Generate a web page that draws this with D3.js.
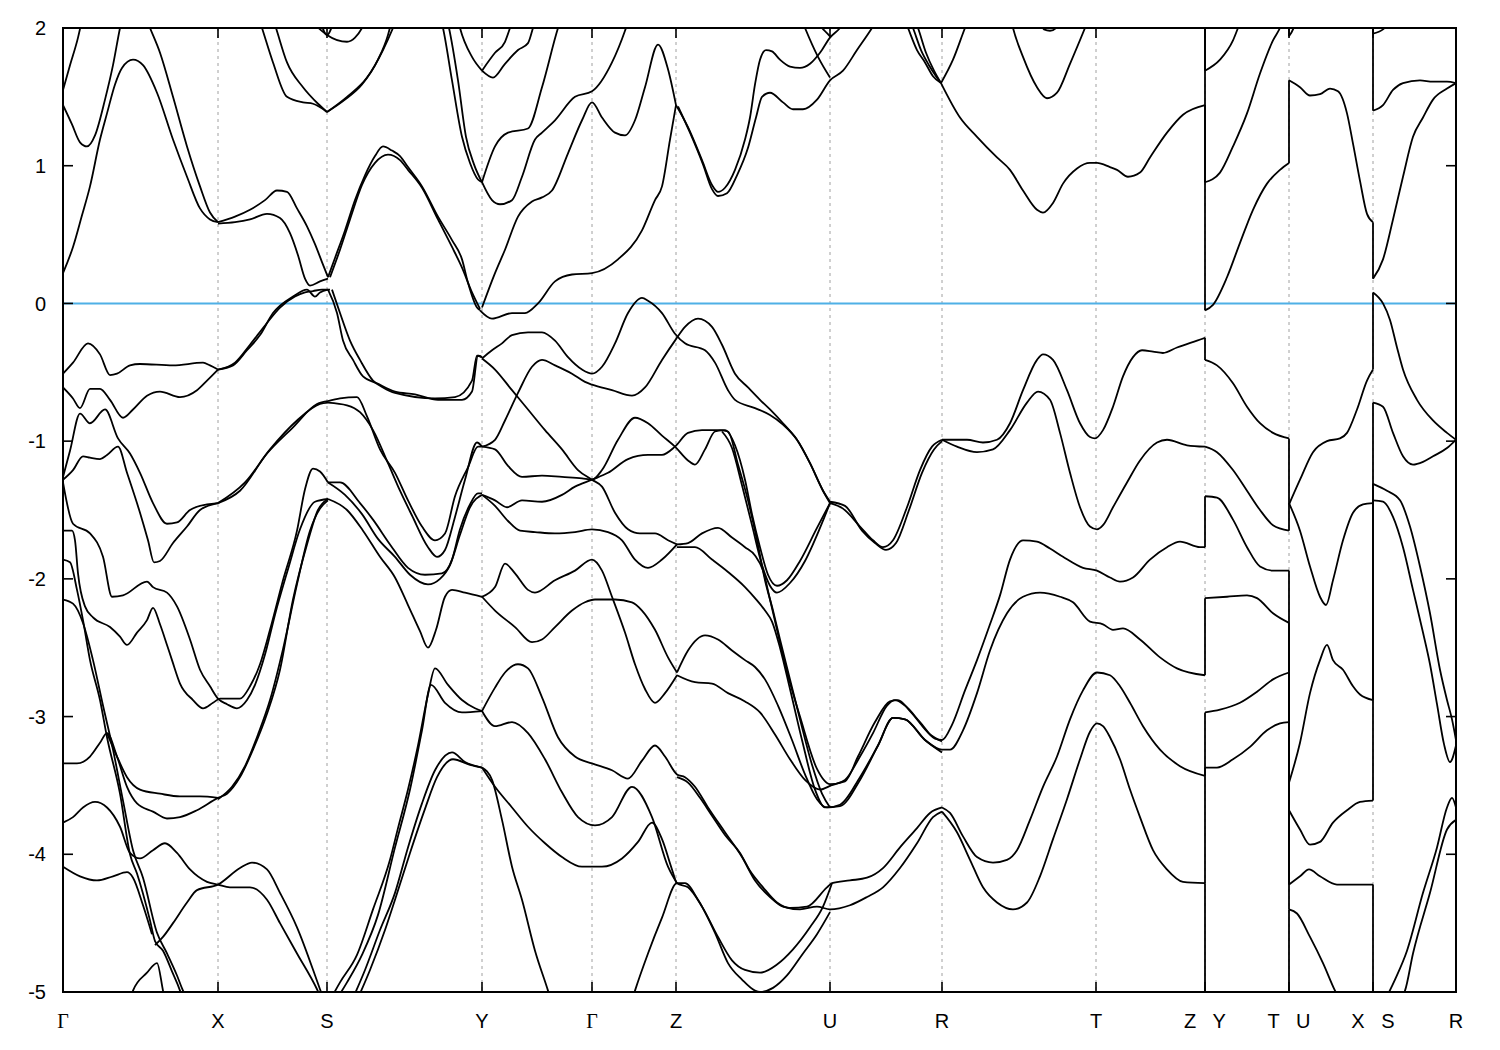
<!DOCTYPE html>
<html><head><meta charset="utf-8">
<script src="https://cdn.jsdelivr.net/npm/d3@7"></script>
<style>
body{margin:0;background:#fff}
text{font-family:"Liberation Sans",Arial,sans-serif;fill:#000}
</style>
</head><body>
<svg id="chart" width="1500" height="1050"></svg>
<script>
// high-symmetry points along the k-path
const kTicks  = [0, 1.55, 2.64, 4.19, 5.29, 6.13, 7.67, 8.79, 10.33, 11.42, 12.26, 13.10, 13.93];
const kLabels = ["Γ","X","S","Y","Γ","Z","U","R","T","Z   Y","T   U","X   S","R"];
const eTicks  = [2, 1, 0, -1, -2, -3, -4, -5];
const eFermi  = 0;

// bands above the Fermi level: [k, E(eV)]
const bandsUpper = [
 [[0,1.55],[0.07,1.73],[0.15,1.93],[0.19,2.06]],
 [[0,1.44],[0.09,1.30],[0.17,1.17],[0.24,1.14],[0.32,1.22],[0.42,1.48],[0.50,1.73],[0.57,2.00],[0.61,2.13]],
 [[0,0.22],[0.10,0.41],[0.19,0.64],[0.27,0.85],[0.37,1.19],[0.44,1.38],[0.52,1.59],[0.59,1.71],[0.70,1.77],[0.80,1.73],[0.94,1.53],[1.10,1.19],[1.24,0.92],[1.37,0.69],[1.47,0.61],[1.55,0.59]],
 [[0.82,2.09],[0.87,2.00],[0.97,1.82],[1.10,1.50],[1.24,1.14],[1.37,0.85],[1.47,0.66],[1.55,0.59]],
 [[1.55,0.59],[1.72,0.63],[1.87,0.68],[2.02,0.75],[2.14,0.82],[2.24,0.81],[2.34,0.69],[2.44,0.56],[2.52,0.43],[2.59,0.30],[2.65,0.19]],
 [[1.55,0.58],[1.72,0.59],[1.87,0.61],[2.04,0.65],[2.17,0.62],[2.27,0.51],[2.35,0.35],[2.42,0.18],[2.47,0.13],[2.57,0.16],[2.65,0.18]],
 [[2.65,0.19],[2.72,0.33],[2.82,0.53],[2.92,0.75],[3.02,0.93],[3.12,1.07],[3.20,1.14],[3.29,1.11],[3.37,1.07],[3.45,0.99],[3.59,0.85],[3.75,0.63],[3.89,0.46],[3.99,0.32],[4.05,0.15],[4.14,-0.03],[4.17,-0.05]],
 [[2.67,0.19],[2.77,0.39],[2.87,0.61],[2.99,0.86],[3.12,1.02],[3.25,1.08],[3.37,1.04],[3.45,0.97],[3.59,0.84],[3.75,0.61],[3.89,0.41],[3.99,0.26],[4.09,0.08],[4.17,-0.04]],
 [[1.95,2.09],[1.99,2.00],[2.10,1.75],[2.24,1.50],[2.40,1.46],[2.50,1.45],[2.64,1.39]],
 [[2.09,2.09],[2.13,2.00],[2.24,1.75],[2.40,1.57],[2.55,1.45],[2.64,1.39]],
 [[2.64,1.39],[2.84,1.50],[3.04,1.64],[3.20,1.84],[3.30,2.00],[3.35,2.09]],
 [[2.64,1.39],[2.82,1.48],[2.99,1.59],[3.15,1.77],[3.25,1.95],[3.29,2.06]],
 [[2.47,2.06],[2.57,1.99],[2.64,1.95],[2.84,1.90],[2.92,1.93],[2.99,2.00],[3.03,2.06]],
 [[2.57,2.06],[2.64,1.95],[2.71,2.06]],
 [[3.77,2.09],[3.80,2.00],[3.89,1.62],[3.99,1.21],[4.07,1.02],[4.15,0.90],[4.19,0.88]],
 [[3.83,2.09],[3.86,2.00],[3.95,1.62],[4.03,1.21],[4.11,1.01],[4.19,0.88]],
 [[3.94,2.09],[3.97,2.00],[4.09,1.79],[4.19,1.69]],
 [[4.19,1.69],[4.32,1.82],[4.42,1.90],[4.47,2.00],[4.51,2.09]],
 [[4.19,1.69],[4.30,1.64],[4.42,1.74],[4.55,1.84],[4.65,1.89],[4.70,2.00],[4.74,2.09]],
 [[4.19,0.88],[4.32,1.14],[4.45,1.24],[4.65,1.27],[4.79,1.57],[4.95,2.00],[4.99,2.09]],
 [[4.19,0.88],[4.29,0.75],[4.37,0.72],[4.49,0.75],[4.59,0.92],[4.72,1.19],[4.79,1.24],[4.92,1.33],[5.12,1.50],[5.29,1.54],[5.49,1.75],[5.62,1.98],[5.67,2.09]],
 [[4.19,-0.03],[4.32,0.22],[4.42,0.39],[4.55,0.63],[4.69,0.74],[4.79,0.77],[4.89,0.82],[5.05,1.09],[5.19,1.33],[5.29,1.46],[5.39,1.35],[5.52,1.24],[5.62,1.22],[5.72,1.33],[5.82,1.57],[5.95,1.88],[6.05,1.70],[6.13,1.44]],
 [[4.17,-0.05],[4.29,-0.11],[4.49,-0.07],[4.62,-0.07],[4.75,0.00],[4.92,0.16],[5.09,0.21],[5.29,0.22],[5.55,0.32],[5.79,0.53],[5.92,0.75],[5.99,0.85],[6.07,1.19],[6.13,1.44]],
 [[6.13,1.44],[6.25,1.28],[6.39,1.04],[6.49,0.86],[6.55,0.81],[6.62,0.84],[6.72,0.97],[6.82,1.19],[6.87,1.35],[6.92,1.59],[6.97,1.77],[7.03,1.84],[7.09,1.83],[7.17,1.77],[7.27,1.72],[7.37,1.71],[7.47,1.74],[7.57,1.82],[7.67,1.93],[7.77,2.00],[7.83,2.06]],
 [[6.15,1.43],[6.27,1.24],[6.40,1.01],[6.49,0.83],[6.55,0.78],[6.64,0.80],[6.74,0.93],[6.85,1.13],[6.93,1.35],[6.99,1.50],[7.07,1.53],[7.20,1.46],[7.30,1.41],[7.40,1.41],[7.54,1.48],[7.67,1.62],[7.80,1.69],[7.94,1.84],[8.09,2.00],[8.15,2.07]],
 [[7.37,2.09],[7.42,2.00],[7.55,1.79],[7.67,1.64]],
 [[7.52,2.06],[7.59,2.00],[7.67,1.94]],
 [[8.40,2.09],[8.45,2.00],[8.54,1.84],[8.62,1.75],[8.70,1.65],[8.78,1.60]],
 [[8.45,2.09],[8.50,2.00],[8.58,1.84],[8.66,1.73],[8.73,1.65],[8.78,1.60]],
 [[8.50,2.09],[8.55,2.00],[8.63,1.82],[8.71,1.69],[8.78,1.60]],
 [[8.78,1.60],[8.90,1.77],[9.02,2.00],[9.07,2.09]],
 [[8.78,1.60],[8.97,1.35],[9.14,1.21],[9.34,1.06],[9.47,0.97],[9.60,0.82],[9.74,0.68],[9.80,0.66],[9.90,0.73],[10.00,0.87],[10.14,0.98],[10.27,1.02],[10.34,1.02],[10.47,0.99],[10.54,0.97],[10.65,0.92],[10.77,0.95],[10.87,1.06],[11.04,1.24],[11.20,1.37],[11.42,1.44]],
 [[9.47,2.09],[9.50,2.00],[9.60,1.79],[9.74,1.57],[9.84,1.49],[9.94,1.53],[10.07,1.74],[10.22,2.00],[10.27,2.09]],
 [[9.77,2.06],[9.81,1.99],[9.87,1.98],[9.93,2.00],[9.97,2.06]],
 [[11.42,1.69],[11.57,1.77],[11.70,1.91],[11.75,2.00],[11.80,2.09]],
 [[11.42,0.88],[11.57,0.95],[11.70,1.14],[11.84,1.38],[11.97,1.67],[12.10,1.91],[12.17,2.00],[12.22,2.09]],
 [[11.42,-0.05],[11.50,-0.01],[11.64,0.19],[11.77,0.44],[11.90,0.68],[12.04,0.87],[12.17,0.97],[12.26,1.02]],
 [[12.26,1.62],[12.37,1.57],[12.47,1.51],[12.57,1.52],[12.67,1.56],[12.75,1.54],[12.84,1.38],[12.90,1.16],[12.97,0.89],[13.04,0.65],[13.10,0.59]],
 [[12.26,1.94],[12.30,1.99],[12.33,2.06]],
 [[13.10,1.96],[13.20,1.99],[13.27,2.06]],
 [[13.10,1.40],[13.20,1.44],[13.30,1.55],[13.40,1.60],[13.57,1.62],[13.70,1.61],[13.84,1.61],[13.93,1.60]],
 [[13.10,0.18],[13.20,0.32],[13.30,0.61],[13.40,0.92],[13.50,1.21],[13.60,1.35],[13.70,1.48],[13.84,1.56],[13.93,1.60]],
 [[13.10,0.08],[13.20,0.00],[13.27,-0.12],[13.34,-0.32],[13.40,-0.48],[13.54,-0.70],[13.70,-0.85],[13.84,-0.94],[13.93,-0.99]]
];

// valence bands between about -0.3 and -3.7 eV
const bandsMiddle = [
 [[0,-0.51],[0.10,-0.43],[0.25,-0.29],[0.37,-0.37],[0.47,-0.52],[0.54,-0.51],[0.67,-0.45],[0.77,-0.44],[1.10,-0.45],[1.40,-0.43],[1.47,-0.45],[1.55,-0.48]],
 [[0,-0.61],[0.10,-0.69],[0.17,-0.76],[0.27,-0.62],[0.37,-0.62],[0.47,-0.70],[0.60,-0.83],[0.70,-0.77],[0.84,-0.67],[0.97,-0.64],[1.17,-0.68],[1.34,-0.63],[1.44,-0.56],[1.55,-0.48]],
 [[1.55,-0.48],[1.70,-0.45],[1.84,-0.34],[1.97,-0.23],[2.10,-0.07],[2.30,0.05],[2.44,0.10],[2.52,0.05],[2.57,0.08],[2.65,0.10]],
 [[1.55,-0.48],[1.72,-0.43],[1.87,-0.30],[2.02,-0.16],[2.17,-0.03],[2.32,0.05],[2.42,0.08],[2.50,0.09],[2.59,0.10],[2.67,0.10]],
 [[2.65,0.10],[2.74,-0.07],[2.80,-0.27],[2.90,-0.41],[3.00,-0.53],[3.14,-0.58],[3.32,-0.64],[3.52,-0.66],[3.75,-0.70],[3.99,-0.70],[4.09,-0.64],[4.15,-0.38],[4.19,-0.39]],
 [[2.69,0.10],[2.77,-0.07],[2.87,-0.27],[2.97,-0.41],[3.10,-0.56],[3.20,-0.61],[3.32,-0.65],[3.72,-0.69],[3.92,-0.68],[4.09,-0.56],[4.14,-0.38],[4.19,-0.39]],
 [[4.19,-0.40],[4.29,-0.34],[4.39,-0.29],[4.49,-0.23],[4.65,-0.21],[4.79,-0.21],[4.92,-0.27],[5.05,-0.39],[5.19,-0.48],[5.29,-0.51],[5.39,-0.46],[5.52,-0.29],[5.65,-0.07],[5.79,0.04],[5.85,0.02],[5.99,-0.07],[6.12,-0.22],[6.22,-0.29],[6.42,-0.34],[6.52,-0.43],[6.65,-0.63],[6.72,-0.70],[6.92,-0.76],[7.07,-0.81],[7.20,-0.88],[7.34,-0.99],[7.47,-1.16],[7.60,-1.36],[7.67,-1.44]],
 [[4.19,-1.04],[4.32,-0.99],[4.42,-0.85],[4.55,-0.65],[4.69,-0.46],[4.79,-0.41],[4.92,-0.45],[5.09,-0.51],[5.22,-0.57],[5.29,-0.59],[5.49,-0.63],[5.69,-0.67],[5.82,-0.61],[5.99,-0.41],[6.12,-0.27],[6.22,-0.17],[6.35,-0.11],[6.49,-0.17],[6.59,-0.30],[6.72,-0.51],[6.85,-0.61],[6.97,-0.70],[7.07,-0.77],[7.20,-0.87],[7.34,-0.99],[7.47,-1.16],[7.60,-1.36],[7.67,-1.45]],
 [[4.19,-0.40],[4.32,-0.48],[4.49,-0.63],[4.65,-0.77],[4.82,-0.92],[4.99,-1.06],[5.15,-1.21],[5.29,-1.28],[5.39,-1.33],[5.52,-1.52],[5.65,-1.64],[5.77,-1.67],[5.92,-1.67],[6.05,-1.72],[6.14,-1.75]],
 [[4.19,-1.04],[4.32,-1.06],[4.45,-1.18],[4.59,-1.26],[4.79,-1.25],[4.99,-1.26],[5.19,-1.27],[5.29,-1.28],[5.39,-1.21],[5.55,-0.99],[5.72,-0.83],[5.85,-0.87],[5.99,-0.96],[6.12,-1.04],[6.25,-1.14],[6.32,-1.17],[6.42,-1.06],[6.52,-0.93],[6.62,-0.92],[6.72,-1.03],[6.82,-1.28],[6.89,-1.53],[6.97,-1.77],[7.05,-1.97],[7.14,-2.05],[7.24,-2.01],[7.37,-1.87],[7.54,-1.63],[7.67,-1.45]],
 [[4.19,-1.39],[4.32,-1.43],[4.44,-1.48],[4.59,-1.43],[4.79,-1.44],[4.99,-1.39],[5.12,-1.33],[5.29,-1.28],[5.45,-1.23],[5.65,-1.13],[5.85,-1.10],[5.99,-1.10],[6.12,-1.04],[6.25,-0.94],[6.39,-0.92],[6.55,-0.92],[6.65,-0.93],[6.75,-1.17],[6.85,-1.43],[6.94,-1.72],[7.02,-2.01],[7.10,-2.23],[7.17,-2.44],[7.27,-2.73],[7.37,-3.02],[7.49,-3.35],[7.59,-3.56],[7.67,-3.66]],
 [[6.59,-0.93],[6.69,-1.05],[6.79,-1.32],[6.89,-1.61],[6.99,-1.90],[7.07,-2.05],[7.14,-2.10],[7.27,-2.03],[7.42,-1.87],[7.57,-1.63],[7.67,-1.45]],
 [[4.19,-1.39],[4.32,-1.47],[4.45,-1.58],[4.57,-1.65],[4.72,-1.66],[4.92,-1.67],[5.12,-1.66],[5.29,-1.64],[5.45,-1.66],[5.59,-1.72],[5.72,-1.86],[5.85,-1.92],[5.99,-1.86],[6.14,-1.75]],
 [[6.14,-1.75],[6.25,-1.74],[6.39,-1.67],[6.55,-1.63],[6.69,-1.70],[6.82,-1.77],[6.92,-1.83],[7.00,-1.94],[7.07,-2.15],[7.14,-2.37],[7.22,-2.62],[7.37,-3.00],[7.54,-3.38],[7.67,-3.49],[7.82,-3.47],[7.95,-3.29],[8.12,-3.04],[8.27,-2.89],[8.35,-2.88],[8.47,-2.96],[8.67,-3.13],[8.79,-3.18]],
 [[6.14,-1.77],[6.32,-1.77],[6.49,-1.86],[6.65,-1.95],[6.82,-2.06],[6.92,-2.14],[7.02,-2.23],[7.09,-2.31],[7.17,-2.50],[7.27,-2.80],[7.39,-3.17],[7.52,-3.53],[7.62,-3.66],[7.77,-3.65],[7.97,-3.46],[8.15,-3.21],[8.30,-3.01],[8.42,-3.02],[8.62,-3.17],[8.79,-3.26]],
 [[7.67,-1.45],[7.80,-1.49],[7.97,-1.62],[8.10,-1.72],[8.20,-1.77],[8.30,-1.72],[8.44,-1.48],[8.57,-1.21],[8.69,-1.04],[8.79,-0.99]],
 [[7.67,-1.44],[7.82,-1.47],[7.99,-1.65],[8.12,-1.74],[8.23,-1.79],[8.33,-1.74],[8.46,-1.50],[8.59,-1.23],[8.71,-1.06],[8.79,-1.00]],
 [[8.79,-0.99],[9.04,-0.99],[9.20,-1.01],[9.34,-0.99],[9.47,-0.87],[9.60,-0.63],[9.74,-0.41],[9.80,-0.37],[9.90,-0.41],[10.04,-0.63],[10.17,-0.87],[10.27,-0.97],[10.32,-0.98],[10.40,-0.92],[10.50,-0.75],[10.60,-0.53],[10.70,-0.39],[10.79,-0.34],[10.90,-0.35],[11.00,-0.36],[11.14,-0.32],[11.34,-0.27],[11.42,-0.25]],
 [[8.79,-0.99],[8.94,-1.04],[9.14,-1.08],[9.30,-1.06],[9.47,-0.92],[9.64,-0.72],[9.75,-0.64],[9.87,-0.70],[9.97,-0.94],[10.07,-1.23],[10.17,-1.48],[10.27,-1.62],[10.34,-1.64],[10.40,-1.61],[10.50,-1.48],[10.64,-1.30],[10.77,-1.14],[10.94,-1.01],[11.04,-0.99],[11.24,-1.03],[11.42,-1.04]],
 [[6.14,-2.70],[6.32,-2.75],[6.49,-2.76],[6.65,-2.83],[6.82,-2.89],[6.97,-2.97],[7.12,-3.13],[7.27,-3.31],[7.42,-3.46],[7.57,-3.53],[7.68,-3.50],[7.82,-3.46],[7.97,-3.29],[8.10,-3.12],[8.24,-2.92],[8.32,-2.88],[8.42,-2.92],[8.57,-3.04],[8.72,-3.16],[8.79,-3.17],[8.89,-3.06],[9.02,-2.81],[9.14,-2.59],[9.27,-2.33],[9.37,-2.12],[9.47,-1.86],[9.60,-1.72],[9.74,-1.73],[9.87,-1.78],[10.00,-1.84],[10.20,-1.92],[10.34,-1.94],[10.47,-1.99],[10.57,-2.02],[10.70,-1.99],[10.87,-1.86],[11.04,-1.77],[11.17,-1.73],[11.37,-1.77],[11.42,-1.77]],
 [[6.14,-2.68],[6.25,-2.52],[6.42,-2.41],[6.55,-2.44],[6.69,-2.52],[6.82,-2.59],[6.92,-2.64],[7.02,-2.73],[7.15,-2.92],[7.29,-3.17],[7.42,-3.42],[7.54,-3.60],[7.64,-3.66],[7.77,-3.64],[7.97,-3.44],[8.15,-3.21],[8.30,-3.01],[8.42,-3.02],[8.62,-3.17],[8.79,-3.24],[8.87,-3.24],[9.00,-3.10],[9.14,-2.83],[9.27,-2.52],[9.44,-2.25],[9.60,-2.13],[9.77,-2.10],[9.97,-2.13],[10.10,-2.17],[10.27,-2.31],[10.40,-2.33],[10.50,-2.37],[10.60,-2.36],[10.77,-2.44],[10.97,-2.57],[11.14,-2.65],[11.42,-2.70]],
 [[11.42,-0.41],[11.54,-0.45],[11.70,-0.58],[11.84,-0.75],[11.97,-0.87],[12.10,-0.94],[12.26,-0.98]],
 [[11.42,-1.04],[11.54,-1.08],[11.70,-1.21],[11.84,-1.36],[11.97,-1.50],[12.10,-1.61],[12.26,-1.65]],
 [[11.42,-1.40],[11.54,-1.41],[11.70,-1.57],[11.84,-1.77],[11.97,-1.91],[12.10,-1.94],[12.26,-1.94]],
 [[11.42,-2.14],[11.64,-2.13],[11.84,-2.12],[11.94,-2.14],[12.10,-2.25],[12.26,-2.32]],
 [[11.42,-2.97],[11.57,-2.95],[11.77,-2.90],[11.94,-2.82],[12.10,-2.73],[12.26,-2.68]],
 [[11.42,-3.37],[11.54,-3.37],[11.70,-3.31],[11.87,-3.22],[12.04,-3.10],[12.17,-3.05],[12.26,-3.04]],
 [[12.26,-1.45],[12.37,-1.65],[12.47,-1.91],[12.57,-2.13],[12.63,-2.19],[12.70,-2.01],[12.80,-1.72],[12.90,-1.52],[13.00,-1.46],[13.10,-1.45]],
 [[12.26,-1.46],[12.37,-1.28],[12.50,-1.08],[12.64,-1.00],[12.77,-0.98],[12.84,-0.94],[12.94,-0.77],[13.04,-0.56],[13.10,-0.48]],
 [[12.26,-3.48],[12.37,-3.19],[12.47,-2.83],[12.57,-2.59],[12.64,-2.48],[12.70,-2.59],[12.80,-2.66],[12.90,-2.78],[12.97,-2.84],[13.10,-2.88]],
 [[12.26,-3.68],[12.37,-3.82],[12.47,-3.93],[12.57,-3.91],[12.70,-3.77],[12.84,-3.68],[12.97,-3.62],[13.10,-3.61]],
 [[12.26,-4.22],[12.37,-4.16],[12.46,-4.11],[12.57,-4.16],[12.74,-4.22],[12.90,-4.22],[13.10,-4.22]],
 [[12.26,-4.40],[12.34,-4.43],[12.47,-4.60],[12.60,-4.79],[12.72,-4.99],[12.77,-5.06]],
 [[13.10,-0.72],[13.20,-0.75],[13.30,-0.94],[13.40,-1.11],[13.50,-1.17],[13.60,-1.15],[13.70,-1.11],[13.84,-1.05],[13.93,-0.99]],
 [[13.10,-1.31],[13.24,-1.36],[13.37,-1.43],[13.47,-1.62],[13.57,-1.91],[13.67,-2.25],[13.77,-2.66],[13.84,-2.88],[13.89,-3.02],[13.93,-3.17]],
 [[13.10,-1.43],[13.20,-1.44],[13.30,-1.55],[13.40,-1.77],[13.50,-2.08],[13.60,-2.39],[13.67,-2.62],[13.74,-2.91],[13.81,-3.20],[13.87,-3.33],[13.93,-3.21]],
 [[13.22,-5.06],[13.32,-4.91],[13.44,-4.70],[13.60,-4.28],[13.74,-3.95],[13.84,-3.66],[13.89,-3.59],[13.93,-3.66]],
 [[13.35,-5.06],[13.42,-4.99],[13.50,-4.72],[13.67,-4.28],[13.84,-3.82],[13.93,-3.75]]
];

// deeper valence bands
const bandsLower = [
 [[0,-1.28],[0.10,-1.21],[0.20,-1.11],[0.27,-1.12],[0.37,-1.13],[0.44,-1.10],[0.55,-1.04],[0.64,-1.23],[0.77,-1.52],[0.85,-1.72],[0.91,-1.88],[0.97,-1.87],[1.10,-1.74],[1.24,-1.62],[1.37,-1.50],[1.55,-1.45]],
 [[0,-1.26],[0.07,-1.07],[0.17,-0.80],[0.27,-0.87],[0.42,-0.77],[0.55,-0.98],[0.67,-1.09],[0.77,-1.23],[0.90,-1.45],[1.04,-1.60],[1.14,-1.59],[1.27,-1.50],[1.44,-1.46],[1.55,-1.45]],
 [[0,-1.30],[0.10,-1.60],[0.27,-1.67],[0.40,-1.84],[0.49,-2.13],[0.60,-2.12],[0.84,-2.02],[0.90,-2.06],[1.04,-2.10],[1.14,-2.20],[1.27,-2.44],[1.37,-2.66],[1.47,-2.78],[1.55,-2.87],[1.64,-2.91],[1.74,-2.94],[1.84,-2.88],[1.92,-2.77],[2.02,-2.55],[2.12,-2.26],[2.25,-1.93],[2.37,-1.64],[2.52,-1.44],[2.65,-1.42]],
 [[0,-1.65],[0.09,-1.65],[0.12,-1.72],[0.15,-1.96],[0.22,-2.20],[0.30,-2.28],[0.47,-2.35],[0.57,-2.42],[0.64,-2.48],[0.74,-2.39],[0.84,-2.30],[0.90,-2.21],[0.97,-2.33],[1.04,-2.48],[1.09,-2.59],[1.17,-2.76],[1.30,-2.88],[1.40,-2.94],[1.50,-2.90],[1.57,-2.87],[1.77,-2.87],[1.87,-2.78],[1.97,-2.62],[2.07,-2.37],[2.20,-2.01],[2.34,-1.65],[2.42,-1.35],[2.50,-1.20],[2.57,-1.22],[2.65,-1.30]],
 [[0,-1.86],[0.07,-1.88],[0.14,-2.08],[0.20,-2.30],[0.27,-2.59],[0.37,-2.88],[0.44,-3.15],[0.57,-3.56],[0.67,-4.00],[0.74,-4.14],[0.87,-4.48],[0.92,-4.63],[1.00,-4.70],[1.09,-4.85],[1.17,-4.99],[1.20,-5.06]],
 [[0,-2.15],[0.10,-2.18],[0.20,-2.32],[0.30,-2.59],[0.40,-2.92],[0.50,-3.24],[0.60,-3.61],[0.70,-3.97],[0.80,-4.17],[0.94,-4.57],[1.04,-4.72],[1.14,-4.88],[1.20,-4.99],[1.25,-5.06]],
 [[0,-3.34],[0.14,-3.34],[0.27,-3.29],[0.37,-3.19],[0.44,-3.12],[0.54,-3.29],[0.64,-3.51],[0.74,-3.63],[0.90,-3.69],[1.04,-3.74],[1.17,-3.73],[1.34,-3.68],[1.55,-3.59],[1.64,-3.56],[1.77,-3.44],[1.90,-3.24],[2.04,-2.98],[2.17,-2.66],[2.30,-2.15],[2.44,-1.75],[2.55,-1.50],[2.65,-1.42]],
 [[0.44,-3.12],[0.54,-3.29],[0.64,-3.44],[0.77,-3.53],[0.97,-3.56],[1.17,-3.58],[1.37,-3.58],[1.55,-3.59]],
 [[1.55,-3.60],[1.69,-3.51],[1.82,-3.36],[1.95,-3.13],[2.07,-2.88],[2.20,-2.51],[2.34,-2.04],[2.47,-1.65],[2.57,-1.49],[2.65,-1.43]],
 [[0,-3.77],[0.10,-3.73],[0.20,-3.66],[0.32,-3.62],[0.44,-3.66],[0.57,-3.80],[0.67,-3.99],[0.77,-4.03],[0.90,-3.97],[1.02,-3.92],[1.14,-3.99],[1.27,-4.11],[1.44,-4.20],[1.55,-4.22],[1.67,-4.24],[1.87,-4.24],[2.04,-4.33],[2.17,-4.50],[2.34,-4.72],[2.54,-4.98],[2.59,-5.06]],
 [[0,-4.09],[0.17,-4.16],[0.34,-4.19],[0.50,-4.16],[0.64,-4.13],[0.70,-4.17],[0.80,-4.37],[0.89,-4.58]],
 [[0.92,-4.66],[1.00,-4.60],[1.10,-4.50],[1.24,-4.35],[1.34,-4.26],[1.55,-4.22],[1.77,-4.10],[1.89,-4.06],[2.04,-4.11],[2.17,-4.28],[2.34,-4.53],[2.57,-4.98],[2.61,-5.06]],
 [[0.67,-5.06],[0.70,-4.99],[0.84,-4.86],[0.94,-4.79],[1.00,-4.99],[1.02,-5.06]],
 [[2.65,-1.30],[2.77,-1.30],[2.97,-1.45],[3.10,-1.57],[3.27,-1.75],[3.45,-1.92],[3.62,-1.97],[3.79,-1.96],[3.89,-1.86],[3.97,-1.64],[4.07,-1.46],[4.15,-1.38],[4.19,-1.38]],
 [[2.65,-1.42],[2.84,-1.50],[3.00,-1.65],[3.17,-1.84],[3.32,-1.99],[3.45,-2.19],[3.57,-2.38],[3.65,-2.50],[3.73,-2.37],[3.82,-2.13],[3.89,-2.08],[4.02,-2.10],[4.19,-2.13]],
 [[2.65,-1.30],[2.82,-1.39],[2.99,-1.53],[3.15,-1.71],[3.32,-1.84],[3.47,-1.97],[3.65,-2.04],[3.77,-2.00],[3.87,-1.90],[3.97,-1.68],[4.07,-1.48],[4.19,-1.39]],
 [[2.65,-0.71],[2.77,-0.69],[2.94,-0.68],[3.04,-0.82],[3.17,-1.06],[3.32,-1.23],[3.45,-1.43],[3.59,-1.62],[3.72,-1.72],[3.82,-1.67],[3.92,-1.40],[4.05,-1.19],[4.15,-1.04],[4.19,-1.04]],
 [[2.65,-0.72],[2.84,-0.74],[2.97,-0.79],[3.10,-0.92],[3.25,-1.16],[3.37,-1.36],[3.49,-1.54],[3.65,-1.77],[3.74,-1.84],[3.82,-1.79],[3.92,-1.55],[4.02,-1.28],[4.14,-1.01],[4.19,-1.04]],
 [[1.55,-1.45],[1.77,-1.36],[2.04,-1.09],[2.30,-0.90],[2.54,-0.73],[2.65,-0.71]],
 [[1.55,-1.45],[1.82,-1.30],[2.07,-1.06],[2.34,-0.85],[2.57,-0.73],[2.65,-0.72]],
 [[2.67,-5.06],[2.77,-4.93],[2.94,-4.73],[3.10,-4.40],[3.27,-4.04],[3.35,-3.81],[3.45,-3.53],[3.55,-3.21],[3.65,-2.84],[3.72,-2.65],[3.85,-2.77],[3.99,-2.88],[4.12,-2.94],[4.19,-2.96]],
 [[2.73,-5.06],[2.84,-4.93],[2.99,-4.73],[3.15,-4.44],[3.32,-3.95],[3.47,-3.53],[3.59,-3.10],[3.68,-2.77],[3.82,-2.90],[3.99,-2.97],[4.19,-2.96]],
 [[2.89,-5.06],[3.02,-4.84],[3.17,-4.55],[3.32,-4.28],[3.45,-3.95],[3.59,-3.63],[3.72,-3.39],[3.89,-3.26],[4.02,-3.33],[4.19,-3.37]],
 [[2.94,-5.06],[3.07,-4.84],[3.22,-4.55],[3.32,-4.33],[3.47,-3.99],[3.62,-3.67],[3.74,-3.44],[3.90,-3.31],[4.07,-3.35],[4.19,-3.37]],
 [[4.19,-2.13],[4.32,-2.06],[4.42,-1.89],[4.52,-1.96],[4.65,-2.08],[4.72,-2.10],[4.92,-2.01],[5.12,-1.94],[5.29,-1.86],[5.39,-1.94],[5.49,-2.13],[5.62,-2.39],[5.72,-2.62],[5.82,-2.80],[5.92,-2.90],[6.02,-2.83],[6.14,-2.70]],
 [[4.19,-2.13],[4.32,-2.23],[4.52,-2.35],[4.69,-2.46],[4.79,-2.44],[4.92,-2.35],[5.09,-2.23],[5.22,-2.17],[5.32,-2.15],[5.52,-2.15],[5.69,-2.17],[5.79,-2.23],[5.92,-2.37],[6.05,-2.57],[6.14,-2.68]],
 [[4.19,-2.96],[4.32,-3.07],[4.49,-3.04],[4.65,-3.12],[4.82,-3.31],[4.99,-3.55],[5.15,-3.73],[5.32,-3.79],[5.49,-3.73],[5.69,-3.51],[5.89,-3.73],[6.05,-4.09],[6.14,-4.21]],
 [[4.19,-2.96],[4.32,-2.79],[4.42,-2.68],[4.55,-2.62],[4.65,-2.65],[4.79,-2.86],[4.95,-3.15],[5.12,-3.29],[5.29,-3.34],[5.49,-3.39],[5.65,-3.45],[5.79,-3.32],[5.92,-3.21],[6.02,-3.29],[6.14,-3.42],[6.22,-3.44],[6.32,-3.51],[6.45,-3.66],[6.62,-3.84],[6.79,-4.02],[6.92,-4.19],[7.07,-4.31],[7.20,-4.38],[7.37,-4.40],[7.54,-4.38],[7.67,-4.40],[7.87,-4.37],[8.04,-4.31],[8.20,-4.24],[8.37,-4.10],[8.54,-3.92],[8.70,-3.73],[8.79,-3.69]],
 [[6.14,-3.44],[6.25,-3.48],[6.37,-3.59],[6.49,-3.72],[6.62,-3.86],[6.77,-3.99],[6.87,-4.12],[7.00,-4.24],[7.14,-4.35],[7.27,-4.39],[7.44,-4.38],[7.64,-4.24],[7.69,-4.21],[7.87,-4.19],[8.04,-4.17],[8.20,-4.10],[8.37,-3.95],[8.54,-3.81],[8.67,-3.70],[8.79,-3.66]],
 [[4.19,-3.37],[4.32,-3.51],[4.49,-3.66],[4.65,-3.80],[4.82,-3.92],[4.99,-4.02],[5.19,-4.09],[5.39,-4.09],[5.59,-4.03],[5.75,-3.91],[5.89,-3.77],[5.99,-3.89],[6.09,-4.11],[6.14,-4.21],[6.25,-4.24],[6.39,-4.38],[6.55,-4.60],[6.69,-4.77],[6.82,-4.84],[6.97,-4.86],[7.14,-4.80],[7.30,-4.69],[7.47,-4.53],[7.60,-4.38],[7.69,-4.21]],
 [[5.69,-5.06],[5.72,-4.99],[5.85,-4.72],[5.99,-4.46],[6.14,-4.21],[6.22,-4.21],[6.35,-4.33],[6.52,-4.57],[6.65,-4.79],[6.79,-4.91],[6.92,-4.99],[6.97,-5.00],[7.10,-4.97],[7.24,-4.88],[7.40,-4.72],[7.54,-4.58],[7.67,-4.42]],
 [[4.19,-3.37],[4.29,-3.46],[4.39,-3.75],[4.49,-4.09],[4.59,-4.33],[4.72,-4.70],[4.85,-4.99],[4.88,-5.06]],
 [[8.79,-3.66],[8.87,-3.70],[9.00,-3.87],[9.14,-4.02],[9.30,-4.06],[9.44,-4.04],[9.54,-3.97],[9.67,-3.75],[9.80,-3.51],[9.94,-3.29],[10.07,-3.02],[10.20,-2.81],[10.34,-2.68],[10.47,-2.70],[10.57,-2.78],[10.67,-2.90],[10.80,-3.07],[10.97,-3.24],[11.17,-3.36],[11.42,-3.43]],
 [[8.79,-3.69],[8.94,-3.84],[9.07,-4.04],[9.20,-4.24],[9.34,-4.35],[9.50,-4.40],[9.64,-4.35],[9.77,-4.16],[9.90,-3.89],[10.04,-3.60],[10.17,-3.31],[10.27,-3.11],[10.34,-3.05],[10.40,-3.07],[10.47,-3.15],[10.57,-3.31],[10.67,-3.53],[10.77,-3.73],[10.90,-3.97],[11.04,-4.11],[11.20,-4.20],[11.42,-4.21]]
];

// band jumps at the path discontinuities: [E before, E after]
const jumpZY = {k: 11.42, pairs: [[2.3,1.69],[2.1,0.88],[1.44,-0.05],[-0.25,-0.41],[-1.77,-1.40],[-2.70,-2.14],[-3.43,-2.97],[-4.21,-3.37],[-5.3,-4.21]]};
const jumpTU = {k: 12.26, pairs: [[2.3,1.94],[1.02,1.62],[-0.98,-1.45],[-1.65,-1.45],[-1.94,-3.48],[-2.32,-3.68],[-2.68,-4.22],[-3.04,-4.40],[-5.3,-4.40]]};
const jumpXS = {k: 13.10, pairs: [[2.5,1.96],[2.2,1.40],[0.59,0.18],[-0.48,0.08],[-1.45,-0.72],[-2.88,-1.31],[-3.61,-1.43],[-4.22,-5.3]]};

const L = 63, R = 1456, T = 28, B = 992;
const svg = d3.select("#chart");
const x = d3.scaleLinear().domain([0, 13.93]).range([L, R]);
const y = d3.scaleLinear().domain([-5, 2]).range([B, T]);

svg.append("defs").append("clipPath").attr("id","plotclip")
  .append("rect").attr("x",L).attr("y",T).attr("width",R-L).attr("height",B-T);

// dashed vertical guides at symmetry points
svg.append("g").selectAll("line").data(kTicks.slice(1,-1)).join("line")
  .attr("x1",d=>x(d)).attr("x2",d=>x(d)).attr("y1",T).attr("y2",B)
  .attr("stroke","#a0a0a0").attr("stroke-width",1).attr("stroke-dasharray","3,4");

// Fermi level
svg.append("line").attr("x1",L).attr("x2",R).attr("y1",y(eFermi)).attr("y2",y(eFermi))
  .attr("stroke","#4fb0e6").attr("stroke-width",2);

const line = d3.line().x(d=>x(d[0])).y(d=>y(d[1])).curve(d3.curveMonotoneX);
const g = svg.append("g").attr("clip-path","url(#plotclip)");
g.selectAll("path.band").data([...bandsUpper, ...bandsMiddle, ...bandsLower]).join("path")
  .attr("class","band").attr("d",line)
  .attr("fill","none").attr("stroke","#000").attr("stroke-width",1.8).attr("stroke-linejoin","round");

[jumpZY, jumpTU, jumpXS].forEach(j => {
  g.append("g").selectAll("line").data(j.pairs).join("line")
    .attr("x1",x(j.k)).attr("x2",x(j.k)).attr("y1",d=>y(d[0])).attr("y2",d=>y(d[1]))
    .attr("stroke","#000").attr("stroke-width",1.8);
});

// frame
svg.append("rect").attr("x",L).attr("y",T).attr("width",R-L).attr("height",B-T)
  .attr("fill","none").attr("stroke","#000").attr("stroke-width",2);

// ticks
const tl = 10;
const tk = svg.append("g").attr("stroke","#000").attr("stroke-width",1.6);
eTicks.forEach(e => {
  tk.append("line").attr("x1",L).attr("x2",L+tl).attr("y1",y(e)).attr("y2",y(e));
  tk.append("line").attr("x1",R-tl).attr("x2",R).attr("y1",y(e)).attr("y2",y(e));
});
kTicks.forEach(k => {
  tk.append("line").attr("x1",x(k)).attr("x2",x(k)).attr("y1",B).attr("y2",B-tl);
  tk.append("line").attr("x1",x(k)).attr("x2",x(k)).attr("y1",T).attr("y2",T+tl);
});

// labels
svg.append("g").selectAll("text").data(eTicks).join("text")
  .attr("x",46).attr("y",d=>y(d)).attr("dy","0.36em").attr("text-anchor","end")
  .attr("font-size",20).text(d=>d);

svg.append("g").selectAll("text").data(kTicks).join("text")
  .attr("x",d=>x(d)).attr("y",1028).attr("text-anchor","middle")
  .attr("font-size",20).attr("xml:space","preserve").style("white-space","pre")
  .style("font-family",(d,i)=>kLabels[i]==="Γ" ? "'Liberation Serif','DejaVu Serif',serif" : null)
  .text((d,i)=>kLabels[i]);
</script>
</body></html>
